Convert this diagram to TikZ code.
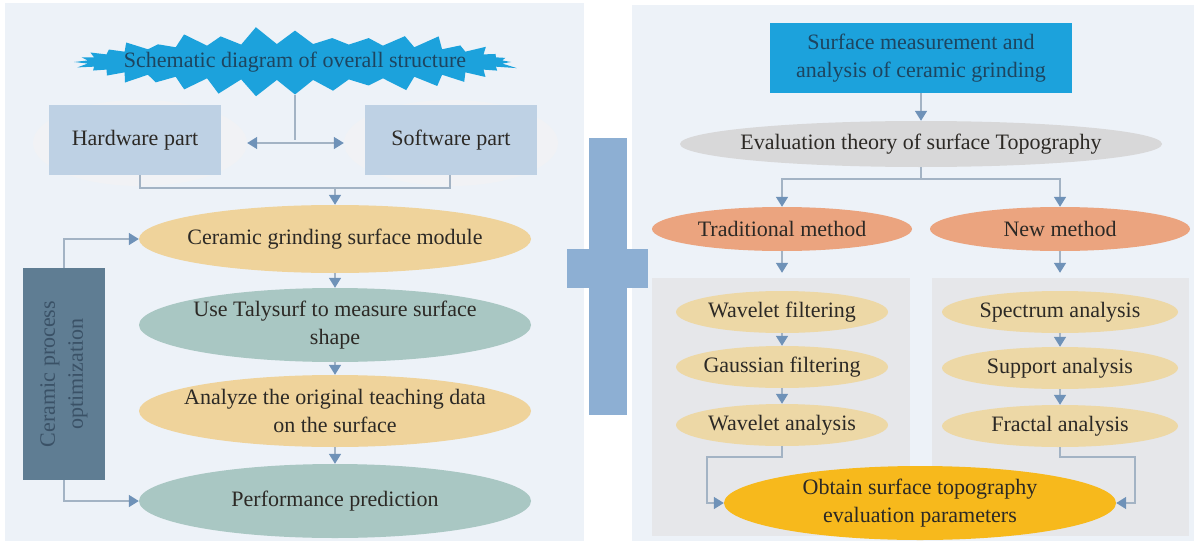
\documentclass[tikz,border=0pt]{standalone}
\usepackage{fontspec}
\setmainfont{Liberation Serif}
\usepackage{tikz}
\usetikzlibrary{shapes.geometric, shapes.symbols, arrows.meta}

\definecolor{panelbg}{HTML}{EDF2F8}
\definecolor{subbg}{HTML}{E6E7EA}
\definecolor{crossblue}{HTML}{8DAFD3}
\definecolor{burstblue}{HTML}{1CA2DC}
\definecolor{boxblue}{HTML}{BED1E4}
\definecolor{glow}{HTML}{F1F2F5}
\definecolor{tan}{HTML}{EFD39B}
\definecolor{paletan}{HTML}{EDD8A6}
\definecolor{teal}{HTML}{A9C7C3}
\definecolor{slate}{HTML}{5F7D93}
\definecolor{slatetext}{HTML}{3A5166}
\definecolor{evalgray}{HTML}{D8D8D9}
\definecolor{salmon}{HTML}{EBA47F}
\definecolor{gold}{HTML}{F7B91C}
\definecolor{linegray}{HTML}{A3B3C4}
\definecolor{tipblue}{HTML}{6F92B8}
\definecolor{txtdark}{HTML}{2C2925}
\definecolor{navytext}{HTML}{1D4560}

\begin{document}
\begin{tikzpicture}[x=1pt, y=-1pt,
    every node/.style={font=\fontsize{22}{28}\selectfont, text=txtdark, align=center},
    oval/.style={ellipse, inner sep=0pt},
    plainbox/.style={rectangle, inner sep=0pt},
    link/.style={draw=linegray, line width=1.6pt},
    tip/.style={-{Triangle[width=12pt, length=10pt, color=tipblue]}},
    twotips/.style={{Triangle[width=12pt, length=10pt, color=tipblue]}-{Triangle[width=12pt, length=10pt, color=tipblue]}}]

  \useasboundingbox (0,0) rectangle (1198,543);

  % Panels
  \fill[panelbg] (5,3) rectangle (584,541);
  \fill[panelbg] (632,5) rectangle (1194,541);
  \node[plainbox, fill=subbg, minimum width=258pt, minimum height=258pt] (tradbox) at (781,407) {};
  \node[plainbox, fill=subbg, minimum width=257pt, minimum height=258pt] (newbox) at (1060.5,407) {};

  % Cross in the middle
  \fill[crossblue] (589,138) rectangle (627,415);
  \fill[crossblue] (567,249) rectangle (648,288);

  % Left column
  \node[starburst, fill=burstblue, starburst points=36, starburst point height=18pt,
        random starburst=11, minimum width=452pt, minimum height=72pt, inner sep=0pt,
        label={[text=navytext]center:Schematic diagram of overall structure}] (burst) at (295,62) {};

  \node[oval, fill=glow, minimum width=214pt, minimum height=86pt] (hwglow) at (140,143) {};
  \node[oval, fill=glow, minimum width=214pt, minimum height=86pt] (swglow) at (451,143) {};
  \node[plainbox, fill=boxblue, minimum width=172pt, minimum height=70pt] (hw) at (135,140) {Hardware part};
  \node[plainbox, fill=boxblue, minimum width=172pt, minimum height=70pt] (sw) at (451,140) {Software part};

  \node[oval, fill=tan, minimum width=392pt, minimum height=68pt,
        label={center:Ceramic grinding surface module}] (cer) at (335,239) {};
  \node[oval, fill=teal, minimum width=392pt, minimum height=74pt,
        label={center:{Use Talysurf to measure surface\\shape}}] (tal) at (335,325) {};
  \node[oval, fill=tan, minimum width=392pt, minimum height=72pt,
        label={center:{Analyze the original teaching data\\on the surface}}] (ana) at (335,411) {};
  \node[oval, fill=teal, minimum width=392pt, minimum height=74pt,
        label={center:Performance prediction}] (per) at (335,501) {};

  \node[plainbox, fill=slate, minimum width=82pt, minimum height=212pt,
        label={[rotate=90, text=slatetext]center:{Ceramic process\\optimization}}] (opt) at (64,374) {};

  \coordinate (hwfoot) at (140,188);
  \coordinate (swfoot) at (450,188);
  \coordinate (split) at (335,188);

  \draw[link] (burst.south) -- (burst.south |- hw.east);
  \draw[link, twotips] (hwglow.east) -- (swglow.west);
  \draw[link] (hwfoot |- hw.south) -- (hwfoot) -- (swfoot) -- (swfoot |- sw.south);
  \draw[link, tip] (split) -- (cer.north);
  \draw[link, tip] (cer.south) -- (tal.north);
  \draw[link, tip] (tal.south) -- (ana.north);
  \draw[link, tip] (ana.south) -- (per.north);
  \draw[link, tip] (opt.north) |- (cer.west);
  \draw[link, tip] (opt.south) |- (per.west);

  % Right column
  \node[plainbox, fill=burstblue, minimum width=302pt, minimum height=70pt, text=navytext]
        (surf) at (921,58) {Surface measurement and\\analysis of ceramic grinding};
  \node[oval, fill=evalgray, minimum width=482pt, minimum height=46pt,
        label={center:Evaluation theory of surface Topography}] (eval) at (921,144) {};
  \node[oval, fill=salmon, minimum width=260pt, minimum height=44pt,
        label={center:Traditional method}] (trad) at (782,229) {};
  \node[oval, fill=salmon, minimum width=260pt, minimum height=44pt,
        label={center:New method}] (newm) at (1060,229) {};

  \node[oval, fill=paletan, minimum width=212pt, minimum height=42pt,
        label={center:Wavelet filtering}] (wf) at (782,312) {};
  \node[oval, fill=paletan, minimum width=212pt, minimum height=42pt,
        label={center:Gaussian filtering}] (gf) at (782,367) {};
  \node[oval, fill=paletan, minimum width=212pt, minimum height=42pt,
        label={center:Wavelet analysis}] (wa) at (782,425) {};
  \node[oval, fill=paletan, minimum width=236pt, minimum height=42pt,
        label={center:Spectrum analysis}] (spa) at (1060,312) {};
  \node[oval, fill=paletan, minimum width=236pt, minimum height=42pt,
        label={center:Support analysis}] (sua) at (1060,368) {};
  \node[oval, fill=paletan, minimum width=236pt, minimum height=42pt,
        label={center:Fractal analysis}] (fra) at (1060,426) {};

  \node[oval, fill=gold, minimum width=392pt, minimum height=74pt,
        label={center:{Obtain surface topography\\evaluation parameters}}] (obt) at (920,503) {};

  \coordinate (fork) at (921,179);
  \coordinate (leftturn) at (707,457);
  \coordinate (rightturn) at (1135,457);

  \draw[link, tip] (surf.south) -- (eval.north);
  \draw[link] (eval.south) -- (fork);
  \draw[link, tip] (fork) -| (trad.north);
  \draw[link, tip] (fork) -| (newm.north);
  \draw[link, tip, shorten >=5pt] (trad.south) -- (tradbox.north -| trad.south);
  \draw[link, tip, shorten >=5pt] (newm.south) -- (newbox.north -| newm.south);
  \draw[link, tip] (wf.south) -- (gf.north);
  \draw[link, tip] (gf.south) -- (wa.north);
  \draw[link, tip] (spa.south) -- (sua.north);
  \draw[link, tip] (sua.south) -- (fra.north);
  \draw[link, tip] (wa.south) |- (leftturn) |- (obt.west);
  \draw[link, tip] (fra.south) |- (rightturn) |- (obt.east);
\end{tikzpicture}
\end{document}
